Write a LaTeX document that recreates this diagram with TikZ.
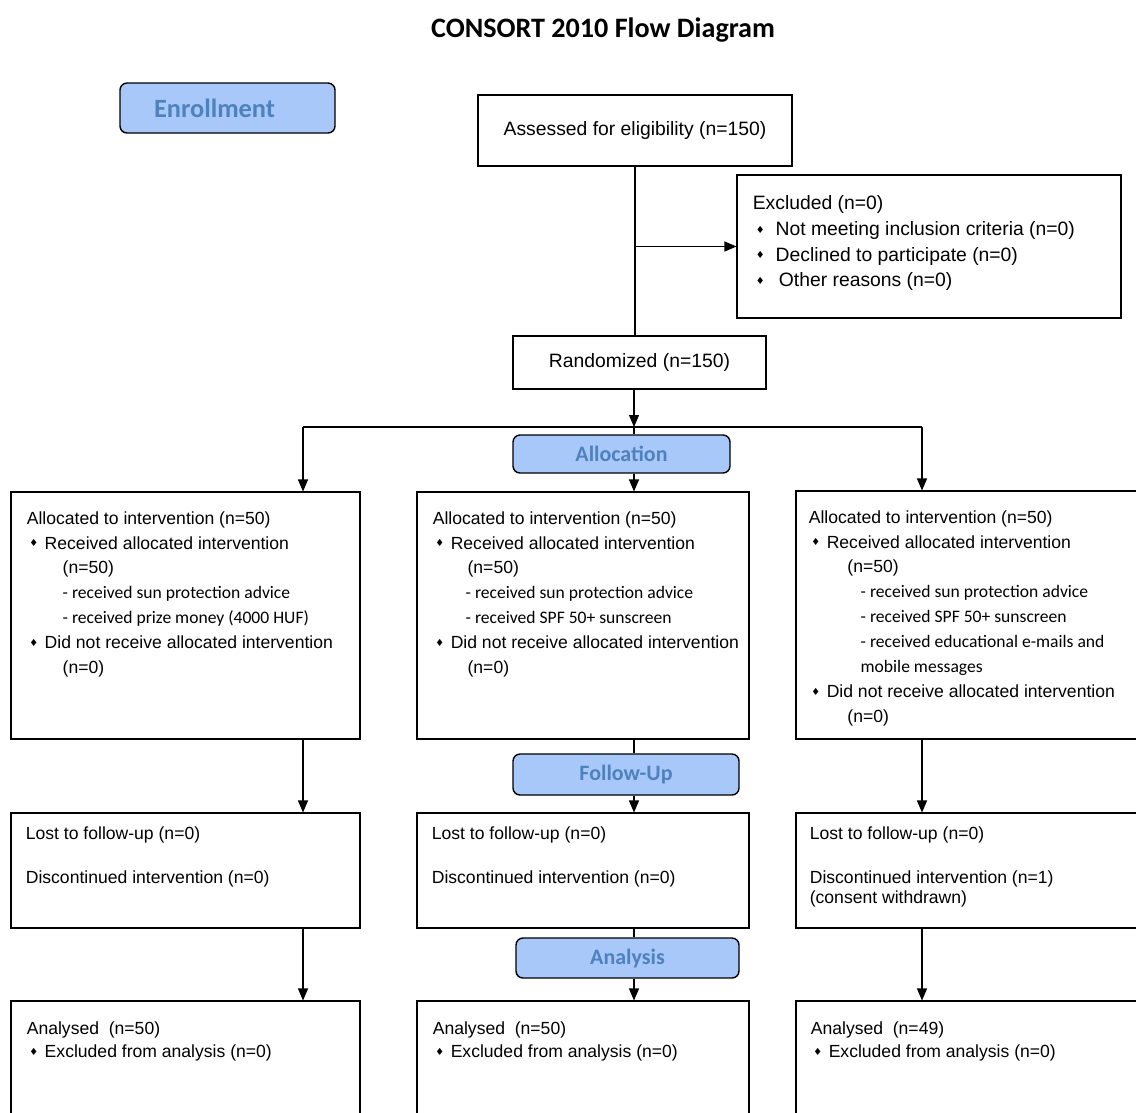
\documentclass[tikz,border=0pt]{standalone}
\usepackage{fontspec}
\setmainfont{Liberation Sans}
\newfontfamily\calibrifont{Carlito}
\newfontfamily\symbolfont{DejaVu Sans}
\usepackage{xcolor}
\usepackage{tikz}
\usetikzlibrary{arrows.meta,positioning,calc}
\definecolor{ConsortFill}{HTML}{A8C8FA}
\definecolor{ConsortLabel}{HTML}{4F81BD}
\newcommand{\dmd}{\raisebox{1.4pt}{\symbolfont\fontsize{5.6}{6}\selectfont ♦}}
\newcommand{\itm}{\makebox[10.2pt][l]{\hspace*{1.4pt}\dmd}}
\newcommand{\calib}[1]{{\calibrifont #1}}

\begin{document}
\begin{tikzpicture}[
  every node/.style={font=\fontsize{10}{14.2}\selectfont},
  flowbox/.style={draw, line width=0.6pt, inner sep=0pt},
  phase/.style={draw, line width=0.8pt, fill=ConsortFill, rounded corners=4pt, text=ConsortLabel, inner sep=0pt, font=\calibrifont\bfseries\fontsize{12.5}{14}\selectfont},
  txt/.style={anchor=north west, inner sep=0pt, align=left},
  arrow/.style={-{Triangle[length=2.4mm,width=2mm]}, line width=0.6pt}
]
\useasboundingbox (0,0) rectangle (22.72,-22.24);
\clip (0,0) rectangle (22.72,-22.24);

\node[font=\calibrifont\bfseries\fontsize{16}{18}\selectfont] (title) at (12.06,-0.6) {CONSORT 2010 Flow Diagram};

% enrollment
\node[phase, minimum width=4.3cm, minimum height=1.0cm, font=\calibrifont\bfseries\fontsize{15}{17}\selectfont] (enroll) at (4.55,-2.16) {Enrollment\hspace*{0.52cm}};
\node[flowbox, minimum width=6.28cm, minimum height=1.42cm, font=\fontsize{11}{13}\selectfont] (assessed) at (12.7,-2.61) {Assessed for eligibility (n=150)};
\node[flowbox, minimum width=7.68cm, minimum height=2.86cm] (excluded) at (18.58,-4.93) {};
\node[txt, font=\fontsize{11}{14.6}\selectfont] at ($(excluded.north west)+(0.32,-0.42)$) {Excluded (n=0)\\
  \makebox[13pt][l]{\hspace*{1.7pt}\dmd}Not meeting inclusion criteria (n=0)\\
  \makebox[13pt][l]{\hspace*{1.7pt}\dmd}Declined to participate (n=0)\\
  \makebox[13pt][l]{\hspace*{1.7pt}\dmd}\,Other reasons (n=0)};
\node[flowbox, minimum width=5.06cm, minimum height=1.06cm, font=\fontsize{11}{13}\selectfont] (random) at (12.79,-7.25) {Randomized (n=150)};

% allocation
\coordinate (splitA) at (6.06,-8.54);
\coordinate (splitB) at (12.68,-8.54);
\coordinate (splitC) at (18.44,-8.54);
\node[phase, minimum width=4.34cm, minimum height=0.76cm] (allocation) at (12.43,-9.08) {Allocation};
\node[flowbox, minimum width=6.98cm, minimum height=4.94cm] (allocA) at (3.71,-12.31) {};
\node[flowbox, minimum width=6.64cm, minimum height=4.94cm] (allocB) at (11.66,-12.31) {};
\node[flowbox, minimum width=6.88cm, minimum height=4.96cm] (allocC) at (19.36,-12.30) {};
\node[txt] at ($(allocA.north west)+(0.32,-0.39)$) {Allocated to intervention (n=50)\\
  \itm Received allocated intervention\\
  \hspace*{20.4pt}(n=50)\\
  \hspace*{20.4pt}\calib{- received sun protection advice}\\
  \hspace*{20.4pt}\calib{- received prize money (4000 HUF)}\\
  \itm Did not receive allocated intervention\\
  \hspace*{20.4pt}(n=0)};
\node[txt] at ($(allocB.north west)+(0.32,-0.39)$) {Allocated to intervention (n=50)\\
  \itm Received allocated intervention\\
  \hspace*{19.8pt}(n=50)\\
  \hspace*{18.7pt}\calib{- received sun protection advice}\\
  \hspace*{18.7pt}\calib{- received SPF 50+ sunscreen}\\
  \itm Did not receive allocated intervention\\
  \hspace*{19.8pt}(n=0)};
\node[txt] at ($(allocC.north west)+(0.26,-0.39)$) {Allocated to intervention (n=50)\\
  \itm Received allocated intervention\\
  \hspace*{22pt}(n=50)\\
  \hspace*{29.5pt}\calib{- received sun protection advice}\\
  \hspace*{29.5pt}\calib{- received SPF 50+ sunscreen}\\
  \hspace*{29.5pt}\calib{- received educational e-mails and}\\
  \hspace*{29.5pt}\calib{mobile messages}\\
  \itm Did not receive allocated intervention\\
  \hspace*{22pt}(n=0)};

% follow-up
\node[phase, minimum width=4.52cm, minimum height=0.82cm] (followup) at (12.52,-15.49) {Follow-Up};
\node[flowbox, minimum width=6.98cm, minimum height=2.3cm] (lostA) at (3.71,-17.41) {};
\node[flowbox, minimum width=6.64cm, minimum height=2.3cm] (lostB) at (11.66,-17.41) {};
\node[flowbox, minimum width=6.88cm, minimum height=2.3cm] (lostC) at (19.36,-17.41) {};
\node[txt] at ($(lostA.north west)+(0.3,-0.27)$) {Lost to follow-up (n=0)\\[11pt]Discontinued intervention (n=0)};
\node[txt] at ($(lostB.north west)+(0.3,-0.27)$) {Lost to follow-up (n=0)\\[11pt]Discontinued intervention (n=0)};
\node[txt] at ($(lostC.north west)+(0.28,-0.27)$) {Lost to follow-up (n=0)\\[11pt]Discontinued intervention (n=1)\\[-2.6pt](consent withdrawn)};

% analysis
\node[phase, minimum width=4.46cm, minimum height=0.8cm] (analysis) at (12.55,-19.16) {Analysis};
\node[flowbox, minimum width=6.98cm, minimum height=2.4cm] (analysedA) at (3.71,-21.22) {};
\node[flowbox, minimum width=6.64cm, minimum height=2.4cm] (analysedB) at (11.66,-21.22) {};
\node[flowbox, minimum width=6.88cm, minimum height=2.4cm] (analysedC) at (19.36,-21.22) {};
\node[txt, font=\fontsize{10}{13.6}\selectfont] at ($(analysedA.north west)+(0.32,-0.41)$) {Analysed\ \ (n=50)\\\itm Excluded from analysis (n=0)};
\node[txt, font=\fontsize{10}{13.6}\selectfont] at ($(analysedB.north west)+(0.32,-0.41)$) {Analysed\ \ (n=50)\\\itm Excluded from analysis (n=0)};
\node[txt, font=\fontsize{10}{13.6}\selectfont] at ($(analysedC.north west)+(0.3,-0.41)$) {Analysed\ \ (n=49)\\\itm Excluded from analysis (n=0)};

% connectors
\draw[line width=0.6pt] (assessed.south) -- (assessed.south |- random.north);
\draw[arrow] (assessed.south |- excluded.west) -- (excluded.west);
\draw[arrow] (random.south -| splitB) -- (splitB);
\draw[line width=0.6pt] (splitA) -- (splitC);
\draw[line width=1.3pt] ($(splitB)+(-1.5,0)$) -- ($(splitB)+(0.68,0)$);
\draw[arrow] (splitA) -- (splitA |- allocA.north);
\draw[line width=0.6pt] (splitB) -- (splitB |- allocation.north);
\draw[arrow] (splitB |- allocation.south) -- (splitB |- allocB.north);
\draw[arrow] (splitC) -- (splitC |- allocC.north);
\draw[arrow] (splitA |- allocA.south) -- (splitA |- lostA.north);
\draw[line width=0.6pt] (splitB |- allocB.south) -- (splitB |- followup.north);
\draw[arrow] (splitB |- followup.south) -- (splitB |- lostB.north);
\draw[arrow] (splitC |- allocC.south) -- (splitC |- lostC.north);
\draw[arrow] (splitA |- lostA.south) -- (splitA |- analysedA.north);
\draw[line width=0.6pt] (splitB |- lostB.south) -- (splitB |- analysis.north);
\draw[arrow] (splitB |- analysis.south) -- (splitB |- analysedB.north);
\draw[arrow] (splitC |- lostC.south) -- (splitC |- analysedC.north);
\end{tikzpicture}
\end{document}
